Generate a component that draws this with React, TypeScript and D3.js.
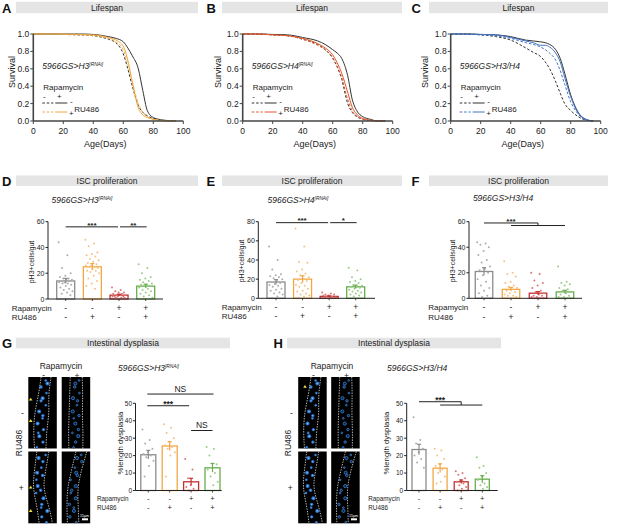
import React from 'react';
import * as d3 from 'd3';

const FONT = '"Liberation Sans", Arial, Helvetica, sans-serif';

// ---- Lifespan (Kaplan-Meier curves) ----
const survDays = [0, 10, 20, 30, 40, 50, 55, 60, 63, 66, 70, 73, 76, 80, 85, 90, 95];
const survTicksX = [0, 20, 40, 60, 80, 100];
const survTicksY = [0, 0.2, 0.4, 0.6, 0.8, 1.0];

const lifeA_ctrl = [1, 1, 0.995, 0.99, 0.98, 0.94, 0.9, 0.77, 0.6, 0.4, 0.18, 0.1, 0.06, 0.03, 0.01, 0, 0];
const lifeA_rapa = [1, 1, 1, 1, 0.995, 0.97, 0.95, 0.91, 0.84, 0.75, 0.6, 0.35, 0.12, 0.04, 0.015, 0.005, 0];
const lifeA_ru = [1, 1, 0.995, 0.99, 0.98, 0.95, 0.91, 0.82, 0.65, 0.45, 0.2, 0.1, 0.05, 0.02, 0.01, 0, 0];
const lifeA_rapaRu = [1, 1, 1, 0.995, 0.99, 0.96, 0.93, 0.86, 0.7, 0.45, 0.15, 0.07, 0.04, 0.02, 0.005, 0, 0];

const lifeB_ctrl = [1, 1, 0.99, 0.98, 0.94, 0.88, 0.82, 0.72, 0.62, 0.48, 0.2, 0.1, 0.05, 0.02, 0.005, 0, 0];
const lifeB_rapa = [1, 1, 0.995, 0.99, 0.96, 0.92, 0.88, 0.82, 0.78, 0.72, 0.52, 0.25, 0.12, 0.05, 0.02, 0, 0];
const lifeB_ru = [1, 1, 0.99, 0.98, 0.94, 0.87, 0.82, 0.73, 0.63, 0.5, 0.25, 0.12, 0.06, 0.02, 0.005, 0, 0];
const lifeB_rapaRu = [1, 1, 0.99, 0.98, 0.95, 0.89, 0.84, 0.76, 0.67, 0.55, 0.33, 0.16, 0.08, 0.03, 0.01, 0, 0];

const lifeC_ctrl = [1, 1, 0.99, 0.97, 0.93, 0.84, 0.79, 0.74, 0.68, 0.6, 0.45, 0.32, 0.2, 0.12, 0.05, 0.01, 0];
const lifeC_rapa = [1, 1, 0.995, 0.99, 0.97, 0.93, 0.92, 0.91, 0.9, 0.88, 0.82, 0.72, 0.55, 0.3, 0.1, 0.02, 0];
const lifeC_ru = [1, 1, 0.99, 0.98, 0.95, 0.9, 0.88, 0.85, 0.82, 0.78, 0.7, 0.58, 0.42, 0.22, 0.08, 0.01, 0];
const lifeC_rapaRu = [1, 1, 0.995, 0.99, 0.96, 0.92, 0.9, 0.87, 0.87, 0.85, 0.78, 0.68, 0.5, 0.28, 0.09, 0.02, 0];

// ---- Bar charts: group order = Rapa-/RU-, Rapa-/RU+, Rapa+/RU-, Rapa+/RU+ ----
const groups = ['ctrl', 'ru', 'rapa', 'rapaRu'];
const rapaSigns = ['-', '-', '+', '+'];
const ruSigns = ['-', '+', '-', '+'];

const pH3MeanD = [14, 25, 3, 10];
const pH3SemD = [2, 2.5, 0.7, 1.5];
const pH3DotsD = [
  [44, 34, 24, 20, 18, 17, 16, 16, 15, 15, 14, 14, 13, 13, 12, 12, 11, 10, 9, 8, 7, 6, 5, 4, 3],
  [46, 43, 41, 36, 35, 34, 33, 31, 30, 29, 28, 27, 26, 26, 25, 25, 24, 23, 22, 22, 21, 20, 18, 16, 14, 12, 10, 8],
  [9, 7, 6, 5, 5, 4, 4, 3, 3, 3, 2, 2, 2, 2, 1, 1, 1, 0, 0, 0, 0, 0],
  [27, 24, 20, 17, 16, 15, 14, 13, 12, 11, 11, 10, 10, 9, 8, 7, 6, 5, 4, 3, 2, 1, 0, 0],
];

const pH3MeanE = [17, 20, 2, 12];
const pH3SemE = [2.5, 3.5, 0.5, 1.8];
const pH3DotsE = [
  [54, 40, 30, 25, 24, 23, 22, 21, 20, 18, 17, 16, 15, 14, 13, 12, 10, 9, 8, 6, 5, 4, 2, 0],
  [73, 54, 38, 37, 30, 28, 26, 24, 22, 20, 19, 18, 16, 14, 13, 12, 10, 8, 7, 5, 4, 3, 2, 0],
  [6, 5, 4, 4, 3, 3, 2, 2, 1, 1, 1, 0, 0, 0, 0],
  [32, 29, 22, 20, 18, 17, 16, 14, 13, 12, 12, 11, 10, 9, 8, 7, 6, 5, 4, 3, 2],
];

const pH3MeanF = [21, 7, 4, 5];
const pH3SemF = [3, 1.5, 1.2, 1.3];
const pH3DotsF = [
  [44, 43, 42, 40, 37, 34, 30, 28, 25, 23, 22, 20, 18, 15, 13, 10, 8, 6, 4, 2, 1, 0],
  [29, 20, 19, 17, 13, 12, 10, 9, 8, 7, 6, 5, 4, 3, 2, 2, 1, 0, 0, 0],
  [20, 19, 14, 12, 10, 8, 6, 5, 4, 3, 2, 2, 1, 1, 0, 0, 0, 0],
  [25, 13, 12, 11, 10, 8, 7, 6, 5, 4, 3, 2, 1, 1, 0, 0, 0, 0],
];

const dysMeanG = [20.5, 25.5, 5, 13];
const dysSemG = [2.5, 2.5, 2, 2.5];
const dysDotsG = [
  [35, 29, 27, 24, 22, 21, 20, 19, 17, 14, 8],
  [38, 36, 33, 30, 28, 26, 25, 24, 22, 20, 8],
  [18, 12, 7, 5, 3, 2, 1, 0],
  [25, 24, 20, 15, 13, 12, 10, 8, 5, 3],
];

const dysMeanH = [23.5, 12.8, 5, 6.5];
const dysSemH = [3, 2.5, 1, 2];
const dysDotsH = [
  [42, 29, 27, 24, 22, 20, 18, 16, 13],
  [24, 23, 20, 18, 15, 14, 12, 10, 8, 5, 4],
  [11, 10, 9, 7, 6, 5, 4, 3, 2, 1, 0],
  [19, 14, 13, 10, 8, 6, 4, 3, 2, 1],
];

const barColors = ['#8c8c8c', '#f3a743', '#c4302e', '#67ad4c'];
const dotColors = ['#adadad', '#f5c286', '#da7676', '#9ccb89'];
const DARK = '#333';
const TXT = '#222';

const TitleBar = ({ x, y, w, h, label, letter }) => (
  <g>
    <rect x={x} y={y} width={w} height={h} fill="#e5e5e5" />
    <text x={x + w / 2} y={y + h - 2.3} fontSize={8.5} textAnchor="middle" fill={TXT}>{label}</text>
    <text x={letter.x} y={letter.y} fontSize={13} fontWeight="bold" fill="#111">{letter.t}</text>
  </g>
);

const Gene = ({ x, y, main, sup, anchor = 'start' }) => (
  <text x={x} y={y} fontSize={8.5} fontStyle="italic" textAnchor={anchor} fill={TXT}>
    {main}
    {sup && <tspan fontSize={4.8} dy={-3.2}>{sup}</tspan>}
  </text>
);

const SurvivalPanel = ({ x0, color, curves, main, sup, labelX }) => {
  const x = d3.scaleLinear().domain([0, 100]).range([x0, x0 + 150]);
  const y = d3.scaleLinear().domain([0, 1]).range([121, 34]);
  const line = d3.line<number>().x((_, i) => x(survDays[i])).y((d) => y(d)).curve(d3.curveMonotoneX);
  const styles = [
    { c: DARK, dash: '2.6,1.8' },
    { c: DARK, dash: null },
    { c: color, dash: '2.6,1.8' },
    { c: color, dash: null },
  ];
  return (
    <g>
      {curves.map((c, k) => (
        <path key={k} d={line(c)} fill="none" stroke={styles[k].c} strokeWidth={1} strokeDasharray={styles[k].dash || undefined} />
      ))}
      <line x1={x0} x2={x0} y1={y(0)} y2={y(1)} stroke="#444" strokeWidth={1.6} />
      <line x1={x0} x2={x0 + 150} y1={y(0)} y2={y(0)} stroke="#444" strokeWidth={1.4} />
      {survTicksY.map((t) => (
        <g key={t}>
          <line x1={x0 - 3} x2={x0} y1={y(t)} y2={y(t)} stroke="#444" strokeWidth={1} />
          <text x={x0 - 4} y={y(t) + 3} fontSize={8.5} textAnchor="end" fill={TXT}>{t.toFixed(1)}</text>
        </g>
      ))}
      {survTicksX.map((t) => (
        <g key={t}>
          <line x1={x(t)} x2={x(t)} y1={y(0)} y2={y(0) + 3} stroke="#444" strokeWidth={1} />
          <text x={x(t)} y={133.5} fontSize={8.5} textAnchor="middle" fill={TXT}>{t}</text>
        </g>
      ))}
      <text x={x0 + 72} y={147} fontSize={9} textAnchor="middle" fill={TXT}>Age(Days)</text>
      <text transform={`translate(${labelX + 3},72) rotate(-90)`} fontSize={9} textAnchor="middle" fill={TXT}>Survival</text>
      <Gene x={x0 + 9} y={69} main={main} sup={sup} />
      <g fontSize={8} fill={TXT}>
        <text x={x0 + 10} y={90}>Rapamycin</text>
        <text x={x0 + 11} y={99} textAnchor="middle">-</text>
        <text x={x0 + 26} y={99} textAnchor="middle">+</text>
        <line x1={x0 + 9} x2={x0 + 20} y1={103} y2={103} stroke={DARK} strokeWidth={1} strokeDasharray="2.6,1.8" />
        <line x1={x0 + 22} x2={x0 + 34} y1={103} y2={103} stroke={DARK} strokeWidth={1} />
        <line x1={x0 + 9} x2={x0 + 20} y1={112} y2={112} stroke={color} strokeWidth={1} strokeDasharray="2.6,1.8" />
        <line x1={x0 + 22} x2={x0 + 34} y1={112} y2={112} stroke={color} strokeWidth={1} />
        <text x={x0 + 38} y={104} textAnchor="middle">-</text>
        <text x={x0 + 38} y={116} textAnchor="middle">+</text>
        <text x={x0 + 41} y={111.5}>RU486</text>
      </g>
    </g>
  );
};

const BarPanel = (p) => {
  const xs = d3.scalePoint().domain(groups).range([p.c1, p.c4]);
  const y = d3.scaleLinear().domain([0, p.yMax]).range([p.yBottom, p.yTop]);
  const bw = p.barW;
  const jitter = (i) => (((i * 0.618034) % 1) - 0.5) * bw * 0.78;
  return (
    <g>
      {groups.map((g, k) => {
        const cx = xs(g);
        return (
          <g key={g}>
            <rect x={cx - bw / 2} y={y(p.means[k])} width={bw} height={y(0) - y(p.means[k])} fill="#fff" stroke={barColors[k]} strokeWidth={1.3} />
            {p.dots[k].map((v, i) => (
              <circle key={i} cx={cx + jitter(i)} cy={y(v)} r={1} fill={dotColors[k]} />
            ))}
            <line x1={cx} x2={cx} y1={y(p.means[k] - p.sems[k])} y2={y(p.means[k] + p.sems[k])} stroke={barColors[k]} strokeWidth={1.2} />
            <line x1={cx - 2} x2={cx + 2} y1={y(p.means[k] + p.sems[k])} y2={y(p.means[k] + p.sems[k])} stroke={barColors[k]} strokeWidth={1.2} />
            <line x1={cx} x2={cx} y1={y(0)} y2={y(0) + 2} stroke={TXT} strokeWidth={0.8} />
            <text x={cx} y={p.rowY1} fontSize={p.signFont} textAnchor="middle" fill={TXT}>{rapaSigns[k]}</text>
            <text x={cx} y={p.rowY2} fontSize={p.signFont} textAnchor="middle" fill={TXT}>{ruSigns[k]}</text>
          </g>
        );
      })}
      <line x1={p.axisX} x2={p.axisX} y1={y(0)} y2={y(p.yMax)} stroke={TXT} strokeWidth={1} />
      <line x1={p.axisX} x2={p.axisEnd} y1={y(0)} y2={y(0)} stroke={TXT} strokeWidth={1} />
      {p.ticks.map((t) => (
        <g key={t}>
          <line x1={p.axisX - 2.5} x2={p.axisX} y1={y(t)} y2={y(t)} stroke={TXT} strokeWidth={1} />
          <text x={p.axisX - 3.5} y={y(t) + p.tickFont * 0.36} fontSize={p.tickFont} textAnchor="end" fill={TXT}>{t}</text>
        </g>
      ))}
      <text transform={`translate(${p.yLabelX + p.yLabelFont * 0.35},${p.yLabelY}) rotate(-90)`} fontSize={p.yLabelFont} textAnchor="middle" fill={TXT}>{p.yLabel}</text>
      <text x={p.rowLabelX} y={p.rowY1} fontSize={p.rowFont} fill={TXT}>Rapamycin</text>
      <text x={p.rowLabelX} y={p.rowY2} fontSize={p.rowFont} fill={TXT}>RU486</text>
      {p.sigs.map((s, i) => {
        const xa = xs(groups[s.a]) + (s.da || 0);
        const xb = xs(groups[s.b]) + (s.db || 0);
        const yy = y(s.v);
        const stars = s.label !== 'NS';
        return (
          <g key={i}>
            <line x1={xa} x2={xb} y1={yy} y2={yy} stroke={TXT} strokeWidth={1} />
            {s.a2 !== undefined && (
              <>
                <line x1={xb} x2={xb} y1={yy} y2={y(s.v2)} stroke={TXT} strokeWidth={1} />
                <line x1={xs(groups[s.a2])} x2={xs(groups[s.b2])} y1={y(s.v2)} y2={y(s.v2)} stroke={TXT} strokeWidth={1} />
              </>
            )}
            <text x={(xa + xb) / 2} y={stars ? yy + 0.8 : yy - 2.4} fontSize={stars ? p.starFont : 8.5} fontWeight={stars ? 'bold' : 'normal'} textAnchor="middle" fill={TXT}>{s.label}</text>
          </g>
        );
      })}
    </g>
  );
};

const GutImages = ({ cols, labelX, rapaX, arrows, scaleX }) => {
  const rows = [377, 451.5];
  const h = [71.5, 71.8];
  const w = 28.5;
  // illustrative gut outlines (fractions of the image box)
  const outlines = [
    { l: [0.45, 0.36, 0.22, 0.18, 0.22], r: [0.8, 0.7, 0.74, 0.64, 0.62], ring: false },
    { l: [0.3, 0.28, 0.26, 0.24, 0.25], r: [0.72, 0.74, 0.72, 0.75, 0.74], ring: true },
    { l: [0.3, 0.22, 0.15, 0.3, 0.38], r: [0.72, 0.62, 0.5, 0.72, 0.85], ring: false },
    { l: [0.5, 0.35, 0.2, 0.18, 0.2], r: [0.88, 0.7, 0.55, 0.58, 0.6], ring: true },
  ];
  const boxes = [
    [cols[0], rows[0], h[0]],
    [cols[1], rows[0], h[0]],
    [cols[0], rows[1], h[1]],
    [cols[1], rows[1], h[1]],
  ];
  return (
    <g>
      <text x={rapaX} y={369} fontSize={8.5} textAnchor="middle" fill={TXT}>Rapamycin</text>
      <text x={cols[0] + w / 2 + 1} y={377.5} fontSize={8.5} textAnchor="middle" fill={TXT}>-</text>
      <text x={cols[1] + w / 2 + 1} y={378.5} fontSize={8.5} textAnchor="middle" fill={TXT}>+</text>
      <text transform={`translate(${labelX + 3},443) rotate(-90)`} fontSize={8.5} textAnchor="middle" fill={TXT}>RU486</text>
      <text x={labelX + 3} y={416} fontSize={8.5} textAnchor="middle" fill={TXT}>-</text>
      <text x={labelX + 2} y={491} fontSize={8.5} textAnchor="middle" fill={TXT}>+</text>
      {boxes.map(([bx, by, bh], k) => {
        const o = outlines[k];
        const pts = (arr) => arr.map((f, i) => [bx + f * w, by + (i / (arr.length - 1)) * bh]);
        const ln = d3.line().curve(d3.curveBasis);
        const mid = o.l.map((f, i) => (f + o.r[i]) / 2);
        const nCells = 16;
        return (
          <g key={k}>
            <rect x={bx} y={by} width={w} height={bh} fill="#000" />
            {d3.range(nCells).map((c) => {
              const t = (c + 0.5) / nCells;
              const seg = t * (mid.length - 1);
              const i0 = Math.floor(seg);
              const fx = mid[i0] + (mid[Math.min(i0 + 1, mid.length - 1)] - mid[i0]) * (seg - i0);
              const off = Math.sin(c * 2.4 + k) * 0.12;
              const r = 0.9 + ((c * 5) % 3) * 0.35;
              const cx = bx + (fx + off) * w;
              const cy = by + t * bh + Math.cos(c * 1.7) * 1.2;
              return o.ring ? (
                <circle key={c} cx={cx} cy={cy} r={r} fill="#0a2448" stroke="#3d8ce4" strokeWidth={0.7} />
              ) : (
                <g key={c}>
                  <circle cx={cx} cy={cy} r={r + 0.4} fill="#2a74cc" />
                  <circle cx={cx} cy={cy} r={r * 0.5} fill="#7cc0ff" />
                </g>
              );
            })}
            <path d={ln(pts(o.l))} fill="none" stroke="#e6e6e6" strokeWidth={0.8} strokeDasharray="1.4,1.2" />
            <path d={ln(pts(o.r))} fill="none" stroke="#e6e6e6" strokeWidth={0.8} strokeDasharray="1.4,1.2" />
          </g>
        );
      })}
      {arrows.map(([ax, ay], i) => (
        <polygon key={i} points={`${ax - 1.8},${ay + 1.3} ${ax + 1.8},${ay + 1.3} ${ax},${ay - 1.6}`} fill="#f4e23a" />
      ))}
      <text x={scaleX} y={516.5} fontSize={3.6} fill="#fff">15µm</text>
      <rect x={scaleX + 2} y={518.3} width={6} height={2} fill="#fff" />
    </g>
  );
};

const big = { tickFont: 7, rowFont: 8, signFont: 8.5, yLabelFont: 7, starFont: 8 };
const small = { tickFont: 6.5, rowFont: 6.3, signFont: 7.5, yLabelFont: 7.8, starFont: 8.5 };

const App = () => (
  <div style={{ position: 'absolute', left: 0, top: 0 }}>
    <svg width={617} height={526} viewBox="0 0 617 526" style={{ display: 'block', background: '#fff', fontFamily: FONT }}>
      {/* Row 1: lifespan */}
      <TitleBar x={16} y={1.8} w={182} h={11.4} label="Lifespan" letter={{ x: 2, y: 12.7, t: 'A' }} />
      <TitleBar x={222} y={1.8} w={180} h={11.4} label="Lifespan" letter={{ x: 206.5, y: 12.7, t: 'B' }} />
      <TitleBar x={429} y={1.8} w={179} h={11.4} label="Lifespan" letter={{ x: 411.5, y: 12.7, t: 'C' }} />
      <SurvivalPanel x0={33.3} color="#f0a83e" labelX={12} main="5966GS>H3" sup="[RNAi]"
        curves={[lifeA_ctrl, lifeA_rapa, lifeA_ru, lifeA_rapaRu]} />
      <SurvivalPanel x0={242.7} color="#e0582c" labelX={218.3} main="5966GS>H4" sup="[RNAi]"
        curves={[lifeB_ctrl, lifeB_rapa, lifeB_ru, lifeB_rapaRu]} />
      <SurvivalPanel x0={450.7} color="#4272c4" labelX={425} main="5966GS>H3/H4"
        curves={[lifeC_ctrl, lifeC_rapa, lifeC_ru, lifeC_rapaRu]} />

      {/* Row 2: ISC proliferation */}
      <TitleBar x={16} y={175.5} w={182} h={10.5} label="ISC proliferation" letter={{ x: 2, y: 185.5, t: 'D' }} />
      <TitleBar x={222} y={175.5} w={180} h={10.5} label="ISC proliferation" letter={{ x: 206.5, y: 185.5, t: 'E' }} />
      <TitleBar x={429} y={175.5} w={179} h={10.5} label="ISC proliferation" letter={{ x: 411.5, y: 185.5, t: 'F' }} />
      <Gene x={82} y={203} main="5966GS>H3" sup="[RNAi]" anchor="middle" />
      <Gene x={298} y={203} main="5966GS>H4" sup="[RNAi]" anchor="middle" />
      <Gene x={503} y={201} main="5966GS>H3/H4" anchor="middle" />
      <BarPanel {...big} axisX={48} axisEnd={163} c1={65.7} c4={145.7} barW={18} yTop={221.7} yBottom={299} yMax={60} ticks={[0, 20, 40, 60]}
        means={pH3MeanD} sems={pH3SemD} dots={pH3DotsD} yLabel="pH3+cells/gut" yLabelX={32} yLabelY={262}
        rowLabelX={11.7} rowY1={310.5} rowY2={320}
        sigs={[{ a: 0, b: 2, v: 56, label: '***', db: -1 }, { a: 2, b: 3, v: 56, label: '**', da: 1, db: 1 }]} />
      <BarPanel {...big} axisX={258.3} axisEnd={375} c1={276} c4={355.7} barW={18} yTop={221.7} yBottom={298.3} yMax={80} ticks={[0, 20, 40, 60, 80]}
        means={pH3MeanE} sems={pH3SemE} dots={pH3DotsE} yLabel="pH3+cells/gut" yLabelX={242} yLabelY={261}
        rowLabelX={221.7} rowY1={309.5} rowY2={319}
        sigs={[{ a: 0, b: 2, v: 79, label: '***', db: -1 }, { a: 2, b: 3, v: 79, label: '*', da: 1, db: 1 }]} />
      <BarPanel {...big} axisX={469} axisEnd={582} c1={484} c4={565} barW={17.5} yTop={221.7} yBottom={298.3} yMax={60} ticks={[0, 20, 40, 60]}
        means={pH3MeanF} sems={pH3SemF} dots={pH3DotsF} yLabel="pH3+cells/gut" yLabelX={453} yLabelY={261}
        rowLabelX={428.3} rowY1={310} rowY2={319.5}
        sigs={[{ a: 0, b: 2, v: 59, a2: 1, b2: 3, v2: 57, label: '***' }]} />

      {/* Row 3: intestinal dysplasia */}
      <TitleBar x={16} y={337.7} w={214} h={10.6} label="Intestinal dysplasia" letter={{ x: 2, y: 347.7, t: 'G' }} />
      <TitleBar x={287} y={337.7} w={214} h={10.6} label="Intestinal dysplasia" letter={{ x: 273.5, y: 347.7, t: 'H' }} />
      <GutImages cols={[28.3, 61.7]} labelX={19.3} rapaX={61} scaleX={80}
        arrows={[[30.7, 399.3], [30.7, 420.7], [30.7, 487.3], [30.7, 510.7]]} />
      <GutImages cols={[298.2, 331.2]} labelX={288.3} rapaX={332} scaleX={349}
        arrows={[[305, 386.5]]} />
      <Gene x={118} y={371} main="5966GS>H3" sup="[RNAi]" />
      <Gene x={387} y={371} main="5966GS>H3/H4" />
      <BarPanel {...small} axisX={135.5} axisEnd={221.7} c1={148.3} c4={212.5} barW={15} yTop={403.3} yBottom={490.5} yMax={50} ticks={[0, 10, 20, 30, 40, 50]}
        means={dysMeanG} sems={dysSemG} dots={dysDotsG} yLabel="%length dysplasia" yLabelX={120.5} yLabelY={443}
        rowLabelX={97} rowY1={500.5} rowY2={509.5}
        sigs={[{ a: 0, b: 3, v: 55.3, label: 'NS', da: -1, db: 1 }, { a: 0, b: 2, v: 48.6, label: '***', da: -1, db: -2 }, { a: 2, b: 3, v: 34.4, label: 'NS' }]} />
      <BarPanel {...small} axisX={406.7} axisEnd={497.7} c1={419} c4={482.3} barW={14} yTop={403.3} yBottom={490.5} yMax={50} ticks={[0, 10, 20, 30, 40, 50]}
        means={dysMeanH} sems={dysSemH} dots={dysDotsH} yLabel="%length dysplasia" yLabelX={386} yLabelY={443}
        rowLabelX={368.3} rowY1={500.5} rowY2={509.5}
        sigs={[{ a: 0, b: 2, v: 50.9, a2: 1, b2: 3, v2: 49, label: '***' }]} />
    </svg>
  </div>
);

export default App;
